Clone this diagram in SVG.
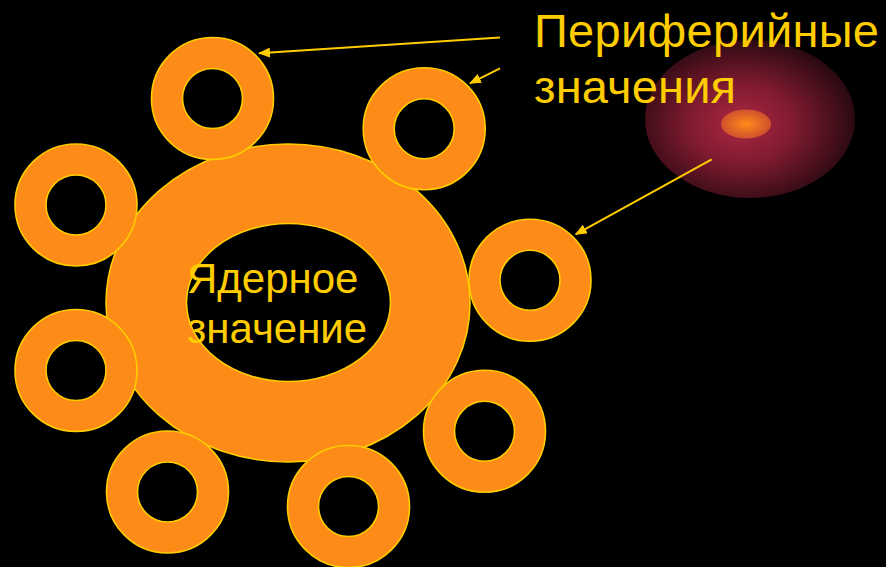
<svg xmlns="http://www.w3.org/2000/svg" width="886" height="567" viewBox="0 0 886 567">
<style>
.ring{fill:#FC8C17;stroke:#FFCC00;stroke-width:1.6}
.hole{fill:#000;stroke:#FFCC00;stroke-width:1.6}
.lbl{font-family:"Liberation Sans",Arial,sans-serif;fill:#FFCC00}
.conn{stroke:#FFCC00;stroke-width:2;fill:none;marker-end:url(#ah)}
</style>
<defs>
<marker id="ah" viewBox="0 0 12 10" refX="11" refY="5" markerWidth="12" markerHeight="10" markerUnits="userSpaceOnUse" orient="auto">
<path d="M0,0 L12,5 L0,10 Z" fill="#FFCC00"/>
</marker>
<radialGradient id="glow" cx="0.46" cy="0.53" r="0.55">
<stop offset="0" stop-color="#AC2640"/>
<stop offset="0.45" stop-color="#801B30"/>
<stop offset="1" stop-color="#280910"/>
</radialGradient>
<radialGradient id="core" cx="0.5" cy="0.5" r="0.5">
<stop offset="0" stop-color="#FF8C1A"/>
<stop offset="1" stop-color="#D0502E"/>
</radialGradient>
</defs>
<rect width="886" height="567" fill="#000"/>
<g id="glow-node">
<ellipse cx="750" cy="119" rx="105" ry="79" fill="url(#glow)"/>
<ellipse cx="746" cy="124" rx="25" ry="14.5" fill="url(#core)"/>
</g>
<g id="core-node">
<ellipse class="ring" cx="288" cy="303" rx="182" ry="159"/>
<ellipse class="hole" cx="288.5" cy="302.5" rx="102" ry="79"/>
</g>
<g id="p1"><circle class="ring" cx="212.5" cy="98.5" r="61"/><circle class="hole" cx="212.5" cy="98.5" r="30"/></g>
<g id="p2"><circle class="ring" cx="424.2" cy="128.8" r="61"/><circle class="hole" cx="424.2" cy="128.8" r="30"/></g>
<g id="p3"><circle class="ring" cx="76" cy="205" r="61"/><circle class="hole" cx="76" cy="205" r="30"/></g>
<g id="p4"><circle class="ring" cx="530" cy="280.3" r="61"/><circle class="hole" cx="530" cy="280.3" r="30"/></g>
<g id="p5"><circle class="ring" cx="76" cy="370.5" r="61"/><circle class="hole" cx="76" cy="370.5" r="30"/></g>
<g id="p6"><circle class="ring" cx="484.5" cy="431.3" r="61"/><circle class="hole" cx="484.5" cy="431.3" r="30"/></g>
<g id="p7"><circle class="ring" cx="167.5" cy="492" r="61"/><circle class="hole" cx="167.5" cy="492" r="30"/></g>
<g id="p8"><circle class="ring" cx="348.5" cy="506.5" r="61"/><circle class="hole" cx="348.5" cy="506.5" r="30"/></g>
<g id="connectors">
<line class="conn" x1="500" y1="37.5" x2="259" y2="53.3"/>
<line class="conn" x1="500" y1="68.3" x2="470" y2="83.3"/>
<line class="conn" x1="711.7" y1="159.3" x2="575.7" y2="234.3"/>
</g>
<g id="labels">
<text class="lbl" x="187" y="293.3" font-size="42">Ядерное</text>
<text class="lbl" x="187" y="343.3" font-size="42">значение</text>
<text class="lbl" x="534" y="46.7" font-size="47" textLength="345">Периферийные</text>
<text class="lbl" x="534" y="103.3" font-size="47" textLength="202">значения</text>
</g>
</svg>
